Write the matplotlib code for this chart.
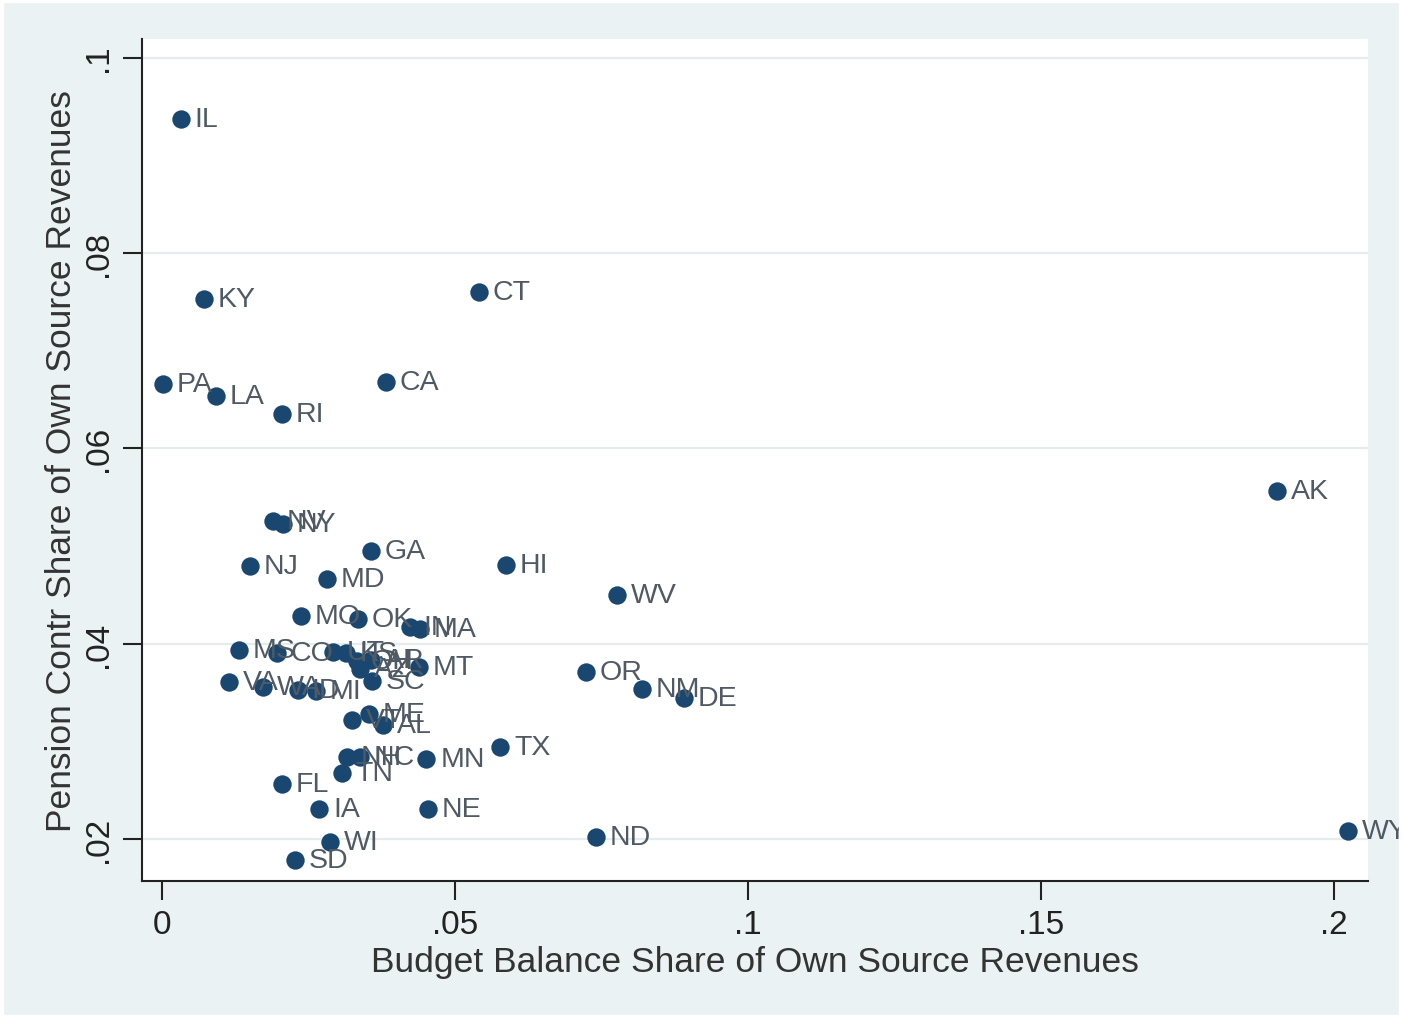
import matplotlib.pyplot as plt
from matplotlib.patches import Rectangle

states = ['IL', 'KY', 'CT', 'PA', 'LA', 'CA', 'RI', 'AK', 'NV', 'NY',
          'GA', 'NJ', 'HI', 'MD', 'WV', 'MO', 'OK', 'IN', 'MA', 'MS',
          'CO', 'UT', 'KS', 'OH', 'AZ', 'AR', 'MT', 'SC', 'OR', 'VA',
          'WA', 'ID', 'MI', 'NM', 'DE', 'VT', 'ME', 'AL', 'TX', 'NH',
          'NC', 'MN', 'TN', 'FL', 'IA', 'NE', 'WI', 'SD', 'ND', 'WY']

budget = [0.0032, 0.0072, 0.0541, 0.0002, 0.0092, 0.0382, 0.0205, 0.1903, 0.0189, 0.0206,
          0.0357, 0.0150, 0.0587, 0.0282, 0.0776, 0.0237, 0.0334, 0.0423, 0.0440, 0.0131,
          0.0196, 0.0292, 0.0314, 0.0333, 0.0338, 0.0357, 0.0439, 0.0358, 0.0724, 0.0114,
          0.0172, 0.0232, 0.0263, 0.0819, 0.0891, 0.0324, 0.0353, 0.0377, 0.0577, 0.0316,
          0.0338, 0.0451, 0.0307, 0.0205, 0.0268, 0.0454, 0.0287, 0.0227, 0.0741, 0.2024]

pension = [0.0937, 0.0753, 0.0760, 0.0666, 0.0654, 0.0668, 0.0635, 0.0556, 0.0526, 0.0522,
           0.0495, 0.0479, 0.0481, 0.0466, 0.0450, 0.0428, 0.0425, 0.0417, 0.0415, 0.0393,
           0.0390, 0.0391, 0.0390, 0.0382, 0.0374, 0.0383, 0.0376, 0.0362, 0.0371, 0.0361,
           0.0356, 0.0353, 0.0351, 0.0354, 0.0344, 0.0322, 0.0328, 0.0317, 0.0294, 0.0284,
           0.0284, 0.0282, 0.0268, 0.0256, 0.0231, 0.0231, 0.0197, 0.0178, 0.0202, 0.0208]

xticks = [0, 0.05, 0.1, 0.15, 0.2]
xtick_labels = ['0', '.05', '.1', '.15', '.2']
yticks = [0.02, 0.04, 0.06, 0.08, 0.1]
ytick_labels = ['.02', '.04', '.06', '.08', '.1']

plt.rcParams['font.family'] = ['Liberation Sans', 'DejaVu Sans']

fig = plt.figure(figsize=(14.03, 10.2), dpi=100, facecolor='#eaf2f3')
fig.patches.append(Rectangle((0, 0), 1, 1, transform=fig.transFigure, fill=False,
                             edgecolor='white', linewidth=6))
ax = fig.add_axes([0.1012, 0.1353, 0.8738, 0.8255])
ax.set_facecolor('white')

ax.scatter(budget, pension, s=175, color='#1a476f', zorder=3, linewidths=0)
for name, x, y in zip(states, budget, pension):
    ax.annotate(name, (x, y), xytext=(10, 0), textcoords='offset points',
                va='center', ha='left', fontsize=20.5, color='#505a64', zorder=4)

ax.set_xlim(-0.00341, 0.2058)
ax.set_ylim(0.0157, 0.1019)
ax.set_xticks(xticks)
ax.set_xticklabels(xtick_labels)
ax.set_yticks(yticks)
ax.set_yticklabels(ytick_labels, rotation=90, va='center')
ax.tick_params(axis='both', labelsize=24, length=14, width=1.5, color='#222222',
               labelcolor='#222222', pad=6)
ax.grid(axis='y', color='#e4ecee', linewidth=1.6, zorder=0)

for side in ['top', 'right']:
    ax.spines[side].set_visible(False)
for side in ['left', 'bottom']:
    ax.spines[side].set_linewidth(1.5)
    ax.spines[side].set_color('#222222')

ax.set_xlabel('Budget Balance Share of Own Source Revenues', fontsize=25.5,
              color='#333333', labelpad=4)
ax.set_ylabel('Pension Contr Share of Own Source Revenues', fontsize=25.5,
              color='#333333', labelpad=4)

fig.savefig('out.png', dpi=100, facecolor=fig.get_facecolor())
